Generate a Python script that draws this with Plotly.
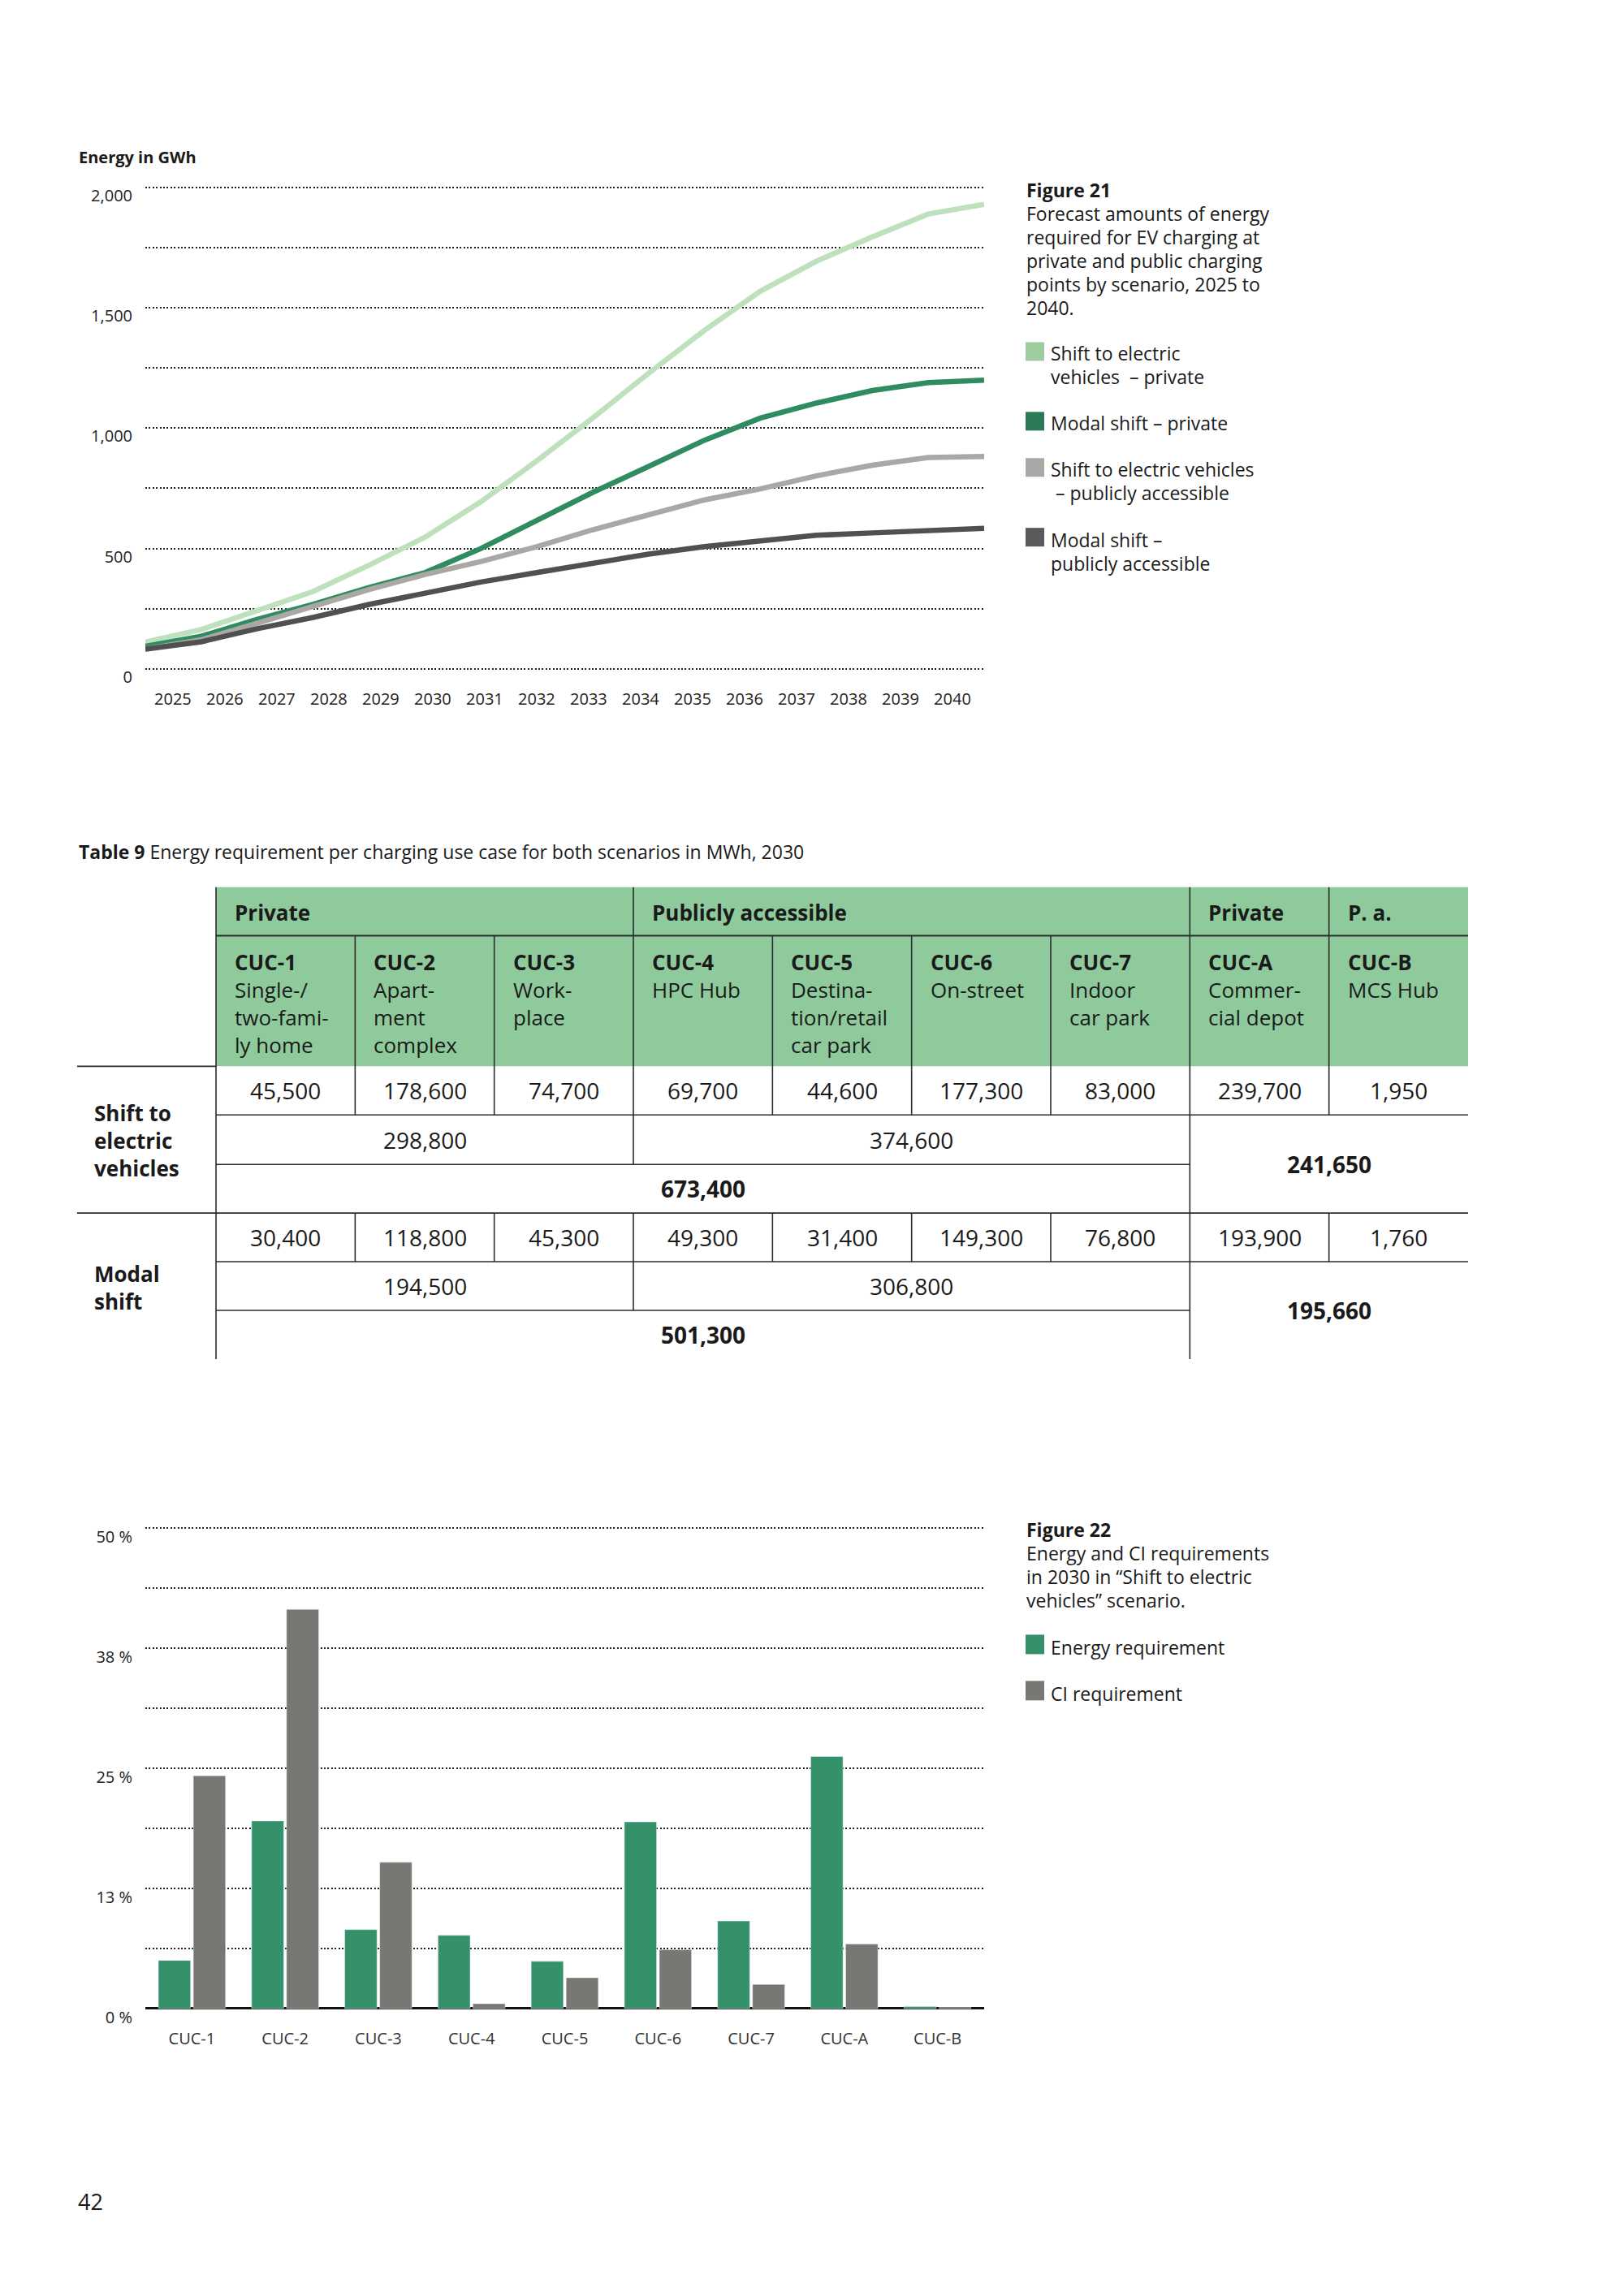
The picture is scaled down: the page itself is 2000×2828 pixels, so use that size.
import plotly.graph_objects as go

W, H = 2000, 2828
FONT = "Open Sans"
TXT = "#1a1a1a"
YS = 1.008  # vertical calibration of measured positions

# ---------------- Figure 21 data ----------------
years = list(range(2025, 2041))
shift_private = [112, 164, 242, 322, 431, 547, 694, 864, 1042, 1228, 1406, 1569, 1693, 1794, 1889, 1929]
modal_private = [94, 136, 206, 268, 338, 400, 500, 617, 733, 841, 950, 1042, 1104, 1156, 1189, 1199]
shift_public = [82, 121, 190, 260, 330, 392, 446, 508, 578, 640, 702, 748, 802, 846, 878, 882]
modal_public = [82, 113, 167, 214, 268, 314, 361, 400, 438, 477, 508, 531, 555, 565, 574, 584]
line_names = ["Shift to electric vehicles – private", "Modal shift – private",
              "Shift to electric vehicles – publicly accessible", "Modal shift – publicly accessible"]
y_ticks = [0, 250, 500, 750, 1000, 1250, 1500, 1750, 2000]
y_ticktext = ["0", "", "500", "", "1,000", "", "1,500", "", "2,000"]

# ---------------- Table 9 data ----------------
group_labels = ["Private", "Publicly accessible", "Private", "P. a."]
group_starts = [0, 3, 7, 8]
col_headers = [["CUC-1", "Single-/", "two-fami-", "ly home"],
               ["CUC-2", "Apart-", "ment", "complex"],
               ["CUC-3", "Work-", "place"],
               ["CUC-4", "HPC Hub"],
               ["CUC-5", "Destina-", "tion/retail", "car park"],
               ["CUC-6", "On-street"],
               ["CUC-7", "Indoor", "car park"],
               ["CUC-A", "Commer-", "cial depot"],
               ["CUC-B", "MCS Hub"]]
shift_values = [45500, 178600, 74700, 69700, 44600, 177300, 83000, 239700, 1950]
shift_private_sum = 298800
shift_public_sum = 374600
shift_total = 673400
shift_commercial = 241650
modal_values = [30400, 118800, 45300, 49300, 31400, 149300, 76800, 193900, 1760]
modal_private_sum = 194500
modal_public_sum = 306800
modal_total = 501300
modal_commercial = 195660

# ---------------- Figure 22 data ----------------
cuc = ["CUC-1", "CUC-2", "CUC-3", "CUC-4", "CUC-5", "CUC-6", "CUC-7", "CUC-A", "CUC-B"]
energy_req = [5.0, 19.5, 8.2, 7.6, 4.9, 19.4, 9.1, 26.2, 0.2]
ci_req = [24.2, 41.5, 15.2, 0.5, 3.2, 6.1, 2.5, 6.7, 0.1]
bar_ticks = [0, 6.25, 12.5, 18.75, 25, 31.25, 37.5, 43.75, 50]
bar_ticktext = ["0 %", "", "13 %", "", "25 %", "", "38 %", "", "50 %"]

# ---------------- styles ----------------
line_colors = ["#bfe0bc", "#2f8c60", "#aaa7a4", "#505050"]
legend21_colors = ["#9dcd9f", "#2a7a56", "#aaa8a6", "#5a5a5a"]
green_bar = "#35916a"
gray_bar = "#797773"
table_green = "#8fca9c"
rule = "#2b2b2b"
GRID_DASH = "2px,2.4px"


def px_x(p):
    return p / W


def px_y(p):
    return 1 - p * YS / H


fig = go.Figure()

for vals, col, nm in zip([shift_private, modal_private, shift_public, modal_public], line_colors, line_names):
    fig.add_trace(go.Scatter(x=years, y=vals, mode="lines", name=nm,
                             line=dict(color=col, width=6.5), xaxis="x", yaxis="y",
                             showlegend=False, hoverinfo="skip"))
fig.add_trace(go.Scatter(x=years, y=[None] * len(years), xaxis="x2", yaxis="y",
                         showlegend=False, hoverinfo="skip"))

fig.add_trace(go.Bar(x=cuc, y=energy_req, name="Energy requirement", marker_color=green_bar,
                     xaxis="x4", yaxis="y4", showlegend=False))
fig.add_trace(go.Bar(x=cuc, y=ci_req, name="CI requirement", marker_color=gray_bar,
                     xaxis="x4", yaxis="y4", showlegend=False))

fig.add_trace(go.Scatter(x=[None], y=[None], xaxis="x3", yaxis="y3", showlegend=False))

tickfont = dict(family=FONT, size=20, color="#222")

fig.update_layout(
    width=W, height=H, margin=dict(l=0, r=0, t=0, b=0),
    paper_bgcolor="white", plot_bgcolor="rgba(0,0,0,0)",
    font=dict(family=FONT, color=TXT),
    barmode="group", bargap=0.25, bargroupgap=0.08,
    xaxis=dict(domain=[px_x(179), px_x(1212)], range=[2025, 2040], showgrid=False,
               showticklabels=False, zeroline=False, showline=False, fixedrange=True),
    xaxis2=dict(overlaying="x", anchor="y", side="bottom", range=[2024.47, 2040.61],
                tickvals=years, ticktext=[str(y) for y in years], showgrid=False, zeroline=False,
                ticks="outside", ticklen=18, tickcolor="rgba(0,0,0,0)", tickfont=tickfont),
    yaxis=dict(domain=[px_y(823.2), px_y(226.8)], range=[-4, 2004], tickvals=y_ticks, ticktext=y_ticktext,
               showgrid=True, gridcolor="#222", gridwidth=1.6, griddash=GRID_DASH, zeroline=False,
               ticks="outside", ticklen=11, tickcolor="rgba(0,0,0,0)", tickfont=tickfont,
               ticklabelshift=10),
    xaxis3=dict(domain=[px_x(94.7), px_x(1808)], range=[-1, 9], visible=False, fixedrange=True),
    yaxis3=dict(domain=[px_y(1673), px_y(1091)], range=[582, 0], visible=False, fixedrange=True,
                anchor="x3"),
    xaxis4=dict(domain=[px_x(179), px_x(1212)], anchor="y4", showgrid=False, zeroline=False,
                ticks="outside", ticklen=18, tickcolor="rgba(0,0,0,0)",
                tickfont=dict(family=FONT, size=20, color="#333")),
    yaxis4=dict(domain=[px_y(2475.2), px_y(1879.8)], anchor="x4", range=[-0.1, 50.1], tickvals=bar_ticks,
                ticktext=bar_ticktext, showgrid=True, gridcolor="#222", gridwidth=1.6,
                griddash=GRID_DASH, zeroline=True, zerolinecolor="#111", zerolinewidth=2.5,
                ticks="outside", ticklen=11, tickcolor="rgba(0,0,0,0)", tickfont=tickfont,
                ticklabelshift=11),
)
fig.layout.xaxis3.anchor = "y3"


def ptext(x, y, s, size=23, bold=False, color=TXT, anchor="left"):
    fig.add_annotation(x=px_x(x), y=px_y(y), xref="paper", yref="paper",
                       text=f"<b>{s}</b>" if bold else s, showarrow=False,
                       xanchor=anchor, yanchor="middle",
                       font=dict(family=FONT, size=size, color=color))


def psquare(x0, y0, x1, y1, color):
    fig.add_shape(type="rect", xref="paper", yref="paper", x0=px_x(x0), x1=px_x(x1),
                  y0=px_y(y1), y1=px_y(y0), fillcolor=color, line=dict(width=0))


ptext(95, 191, "Energy in GWh", size=20, bold=True)
cap21 = ["Forecast amounts of energy", "required for EV charging at", "private and public charging",
         "points by scenario, 2025 to", "2040."]
ptext(1262, 231, "Figure 21", bold=True)
for i, s in enumerate(cap21):
    ptext(1262, 260 + 29 * i, s)

leg21_text = [["Shift to electric", "vehicles  – private"], ["Modal shift – private"],
              ["Shift to electric vehicles", " – publicly accessible"], ["Modal shift –", "publicly accessible"]]
leg21_sq = [419, 505, 562, 648]
leg21_line1 = [433, 519, 576, 663]
for lines, col, sq, l1 in zip(leg21_text, legend21_colors, leg21_sq, leg21_line1):
    psquare(1263, sq, 1286, sq + 23, col)
    for j, s in enumerate(lines):
        ptext(1292, l1 + 29 * j, s)

cap22 = ["Energy and CI requirements", "in 2030 in “Shift to electric", "vehicles” scenario."]
ptext(1262, 1883, "Figure 22", bold=True)
for i, s in enumerate(cap22):
    ptext(1262, 1912 + 29 * i, s)
psquare(1263, 2013, 1286, 2037, green_bar)
ptext(1292, 2029, "Energy requirement")
psquare(1263, 2070, 1286, 2094, gray_bar)
ptext(1292, 2086, "CI requirement")

ptext(94, 2712, "42", size=27)

ptext(95, 1047, "<b>Table 9</b> Energy requirement per charging use case for both scenarios in MWh, 2030", size=23)

# ---- Table 9 (x3: columns, y3: px from table top) ----
rows = [0, 60, 221, 281, 342, 402, 462, 522, 582]


def tline(x0, y0, x1, y1, w=1.6):
    fig.add_shape(type="line", xref="x3", yref="y3", x0=x0, y0=y0, x1=x1, y1=y1,
                  line=dict(color=rule, width=w))


def ttext(x, y, s, size=26, bold=False, anchor="center"):
    fig.add_annotation(x=x, y=y, xref="x3", yref="y3", text=f"<b>{s}</b>" if bold else s,
                       showarrow=False, xanchor=anchor, yanchor="middle",
                       font=dict(family=FONT, size=size, color=TXT))


fig.add_shape(type="rect", xref="x3", yref="y3", x0=0, x1=len(cuc), y0=rows[0], y1=rows[2],
              fillcolor=table_green, line=dict(width=0), layer="below")

ncol = len(cuc)
tline(0, rows[1], ncol, rows[1], 2)
tline(-1, rows[2], 0, rows[2])
tline(0, rows[3], ncol, rows[3])
tline(0, rows[4], 7, rows[4])
tline(-1, rows[5], ncol, rows[5])
tline(0, rows[6], ncol, rows[6])
tline(0, rows[7], 7, rows[7])
tline(0, rows[0], 0, rows[8])
tline(7, rows[0], 7, rows[8])
tline(3, rows[0], 3, rows[4])
tline(3, rows[5], 3, rows[7])
tline(8, rows[0], 8, rows[3])
tline(8, rows[5], 8, rows[6])
for c in [1, 2, 4, 5, 6]:
    tline(c, rows[1], c, rows[3])
    tline(c, rows[5], c, rows[6])

pad = 21 / 171.33
for lab, st in zip(group_labels, group_starts):
    ttext(st + pad, 31, lab, size=26, bold=True, anchor="left")
for c, lines in enumerate(col_headers):
    for j, s in enumerate(lines):
        ttext(c + pad, 93 + 34 * j, s, size=26, bold=(j == 0), anchor="left")

for j, s in enumerate(["Shift to", "electric", "vehicles"]):
    ttext(-0.887, 279 + 34 * j, s, size=26, bold=True, anchor="left")
for j, s in enumerate(["Modal", "shift"]):
    ttext(-0.887, 477 + 34 * j, s, size=26, bold=True, anchor="left")

for block, (vals, psum, pubsum, tot, com) in enumerate([
        (shift_values, shift_private_sum, shift_public_sum, shift_total, shift_commercial),
        (modal_values, modal_private_sum, modal_public_sum, modal_total, modal_commercial)]):
    r0 = 3 * block + 2
    yc = lambda r: (rows[r] + rows[r + 1]) / 2
    for c, v in enumerate(vals):
        ttext(c + 0.5, yc(r0), f"{v:,}", size=28)
    ttext(1.5, yc(r0 + 1), f"{psum:,}", size=28)
    ttext(5, yc(r0 + 1), f"{pubsum:,}", size=28)
    ttext(3.5, yc(r0 + 2), f"{tot:,}", size=28, bold=True)
    ttext(8, (rows[r0 + 1] + rows[r0 + 3]) / 2, f"{com:,}", size=28, bold=True)

fig.write_html("out.html", config={"displayModeBar": False},
               post_script="document.body.style.margin='0';document.body.style.padding='0';")
